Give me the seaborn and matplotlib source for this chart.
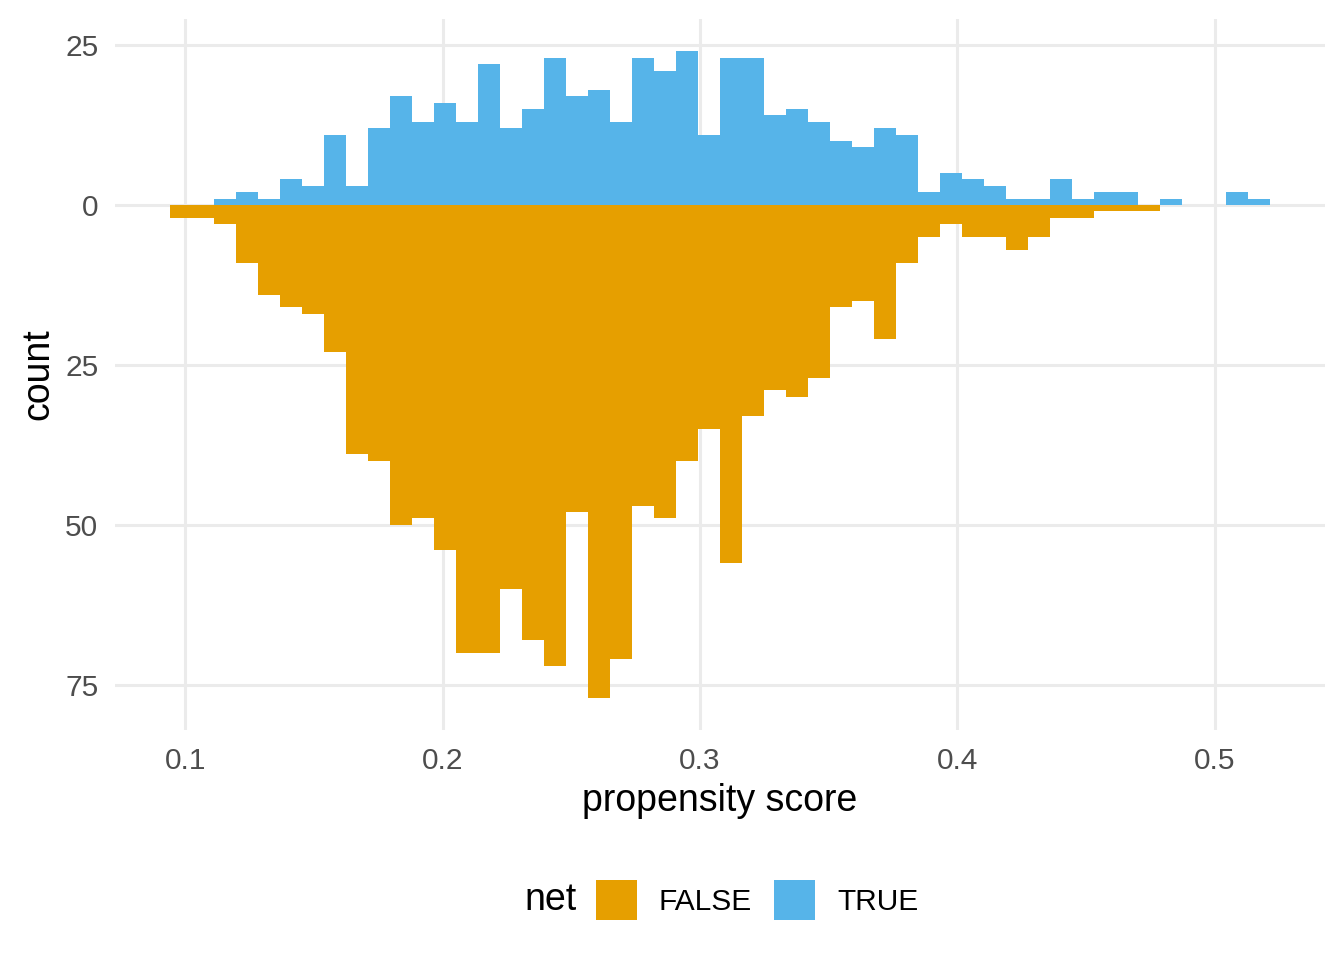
import numpy as np
import pandas as pd
import seaborn as sns
import matplotlib.pyplot as plt
from matplotlib.patches import Patch

# 50 histogram bins of propensity score, counts
bin_lo = 0.0941
bin_hi = 0.5214
n_bins = 50

false_counts = [2, 2, 3, 9, 14, 16, 17, 23, 39, 40,
                50, 49, 54, 70, 70, 60, 68, 72, 48, 77,
                71, 47, 49, 40, 35, 56, 33, 29, 30, 27,
                16, 15, 21, 9, 5, 3, 5, 5, 7, 5,
                2, 2, 1, 1, 1, 0, 0, 0, 0, 0]
true_counts = [0, 0, 1, 2, 1, 4, 3, 11, 3, 12,
               17, 13, 16, 13, 22, 12, 15, 23, 17, 18,
               13, 23, 21, 24, 11, 23, 23, 14, 15, 13,
               10, 9, 12, 11, 2, 5, 4, 3, 1, 1,
               4, 1, 2, 2, 0, 1, 0, 0, 2, 1]

groups = ["FALSE", "TRUE"]
colors = {"FALSE": "#E69F00", "TRUE": "#56B4E9"}

x_ticks = [0.1, 0.2, 0.3, 0.4, 0.5]
y_ticks = [-75, -50, -25, 0, 25]
y_tick_labels = ["75", "50", "25", "0", "25"]

edges = np.linspace(bin_lo, bin_hi, n_bins + 1)
centres = (edges[:-1] + edges[1:]) / 2

# FALSE goes below the axis (mirrored histogram)
df = pd.concat([
    pd.DataFrame({"score": centres, "n": -np.array(false_counts), "net": "FALSE"}),
    pd.DataFrame({"score": centres, "n": np.array(true_counts), "net": "TRUE"}),
], ignore_index=True)

sns.set_theme(style="white")
plt.rcParams['font.family'] = ['Liberation Sans', 'DejaVu Sans']

fig = plt.figure(figsize=(13.44, 9.6), dpi=100)
ax = fig.add_axes([115 / 1344, 1 - 730 / 960, 1210 / 1344, 711 / 960])

for g in groups:
    sns.histplot(data=df[df["net"] == g], x="score", weights="n",
                 bins=n_bins, binrange=(bin_lo, bin_hi), color=colors[g],
                 alpha=1, linewidth=0, ax=ax)

span = bin_hi - bin_lo
ax.set_xlim(bin_lo - 0.05 * span, bin_hi + 0.05 * span)
ymin, ymax = -max(false_counts), max(true_counts)
ax.set_ylim(ymin - 0.05 * (ymax - ymin), ymax + 0.05 * (ymax - ymin))

ax.set_xticks(x_ticks)
ax.set_xticklabels([str(t) for t in x_ticks])
ax.set_yticks(y_ticks)
ax.set_yticklabels(y_tick_labels)
ax.set_axisbelow(True)
ax.grid(True, color="#EBEBEB", linewidth=2.2)
for s in ax.spines.values():
    s.set_visible(False)
ax.tick_params(axis="both", length=0, labelsize=21.5, labelcolor="#4D4D4D", pad=12)

ax.set_xlabel("propensity score", fontsize=27, color="black", labelpad=6)
ax.set_ylabel("count", fontsize=27, color="black", labelpad=6)

handles = [Patch(facecolor=colors[g], edgecolor="none", label=g) for g in groups]
fig.legend(handles=handles, loc="center", bbox_to_anchor=(757 / 1344, 1 - 900 / 960),
           ncol=2, frameon=False, fontsize=21.5, handlelength=1.37, handleheight=1.73,
           handletextpad=0.74, columnspacing=0.74, borderpad=0, labelcolor="black")
fig.text(551 / 1344, 1 - 900 / 960, "net", fontsize=27, color="black",
         ha="center", va="center")

fig.savefig("out.png", dpi=100)
